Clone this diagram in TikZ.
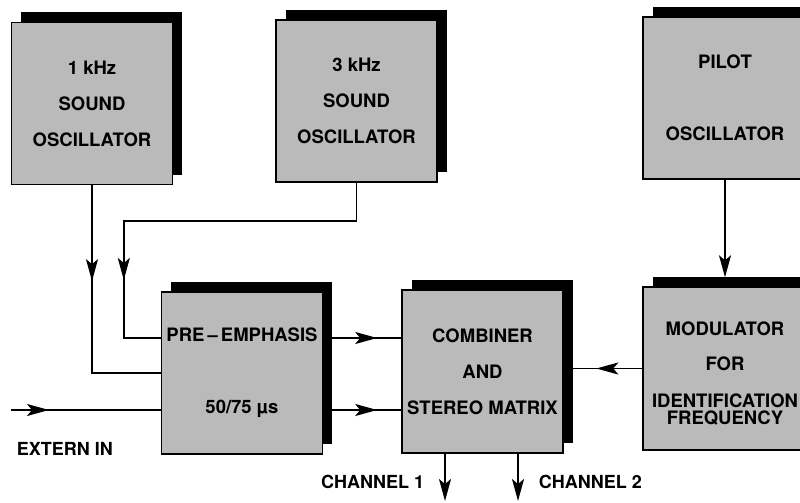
\documentclass[tikz,border=0pt]{standalone}
\usepackage{fontspec}
\setmainfont{TeX Gyre Heros}
\usetikzlibrary{arrows.meta, shadows, decorations.markings}

\begin{document}
\begin{tikzpicture}[x=1pt, y=-1pt, >={Stealth[length=22pt,width=12pt,inset=5pt]}, line width=1.8pt,
  block/.style={draw, line width=1.4pt, fill=black!27, minimum width=161pt, minimum height=162pt,
    inner sep=0pt, align=center, font=\fontsize{18.5}{36}\selectfont\bfseries,
    drop shadow={shadow xshift=9.5pt, shadow yshift=10pt, fill=black, opacity=1}},
  boxtext/.style={inner sep=0pt, align=center, font=\fontsize{18.5}{36}\selectfont\bfseries},
  lbl/.style={inner sep=0pt, font=\fontsize{18}{22}\selectfont\bfseries},
  midarrow/.style={postaction={decorate}, decoration={markings, mark=at position #1 with {\arrow{>}}}}]
  \useasboundingbox (0,0) rectangle (800,503);
  \clip (0,0) rectangle (800,503);
  % oscillators on top
  \node[block] (osc1) at (92,103.5) {1 kHz\\SOUND\\OSCILLATOR};
  \node[block] (osc2) at (356.5,101) {3 kHz\\SOUND\\OSCILLATOR};
  \node[block, minimum width=164pt] (pilot) at (725,98) {PILOT\\[36pt]OSCILLATOR};
  % processing row
  \node[block] (pre) at (242,373) {PRE\,--\,EMPHASIS\\[36pt]50/75~µs};
  \node[block, minimum height=163pt] (comb) at (482.5,371.5) {COMBINER\\AND\\STEREO MATRIX};
  \node[block, minimum width=164pt, minimum height=163pt] (mod) at (725,368.5) {};
  \node[boxtext] (modtxt) at ([yshift=-5pt]mod.center)
        {MODULATOR\\[-1pt]FOR\\[1pt]IDENTIFICATION\\[-19pt]FREQUENCY};
  % free ends
  \coordinate (ext) at (11,410);
  \coordinate (ch1) at (445,501);
  \coordinate (ch2) at (518,501);
  \node[lbl, anchor=base west] (extlbl) at (16,455) {EXTERN IN};
  \node[lbl, anchor=base east] (ch1lbl) at (425,488) {CHANNEL 1};
  \node[lbl, anchor=base west] (ch2lbl) at (538,488) {CHANNEL 2};
  % sound oscillators into pre-emphasis
  \draw[midarrow=96pt] (osc1.south) |- (pre.west);
  \draw[midarrow=330pt] (osc2.south) -- ++(0,38) -| ([xshift=-37pt,yshift=35pt]pre.west) -- ([yshift=35pt]pre.west);
  \draw[midarrow=38pt] (ext) -- (ext -| pre.west);
  % pre-emphasis into combiner
  \draw[midarrow=54pt] ([yshift=35pt]pre.east) -- ([yshift=35pt]pre.east -| comb.west);
  \draw[midarrow=54pt] ([yshift=-37pt]pre.east) -- ([yshift=-37pt]pre.east -| comb.west);
  % pilot path
  \draw[->] (pilot.south) -- ([yshift=9pt]mod.north);
  \draw[midarrow=46pt] (mod.west) -- (mod.west -| comb.east);
  % outputs
  \draw[->] (ch1 |- comb.south) -- (ch1);
  \draw[->] (ch2 |- comb.south) -- (ch2);
\end{tikzpicture}
\end{document}
